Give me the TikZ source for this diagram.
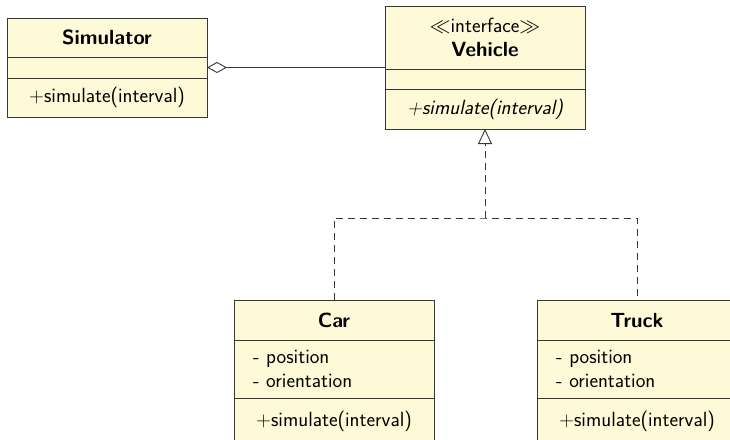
\documentclass[tikz,border=0pt]{standalone}
\usetikzlibrary{positioning,arrows.meta}

\definecolor{classfill}{RGB}{254,249,214}
\definecolor{classline}{RGB}{55,55,55}

\tikzset{
    cls/.style = {draw = classline, fill = classfill, line width = 0.9pt,
                  minimum width = 200pt, inner sep = 0pt, outer sep = 0pt,
                  font = \sffamily\fontsize{20.5}{24}\selectfont},
    attr/.style = {cls, text width = 162pt, align = left},
    link/.style = {draw = classline, line width = 0.9pt},
    realize/.style = {link, dash pattern = on 7pt off 5pt}
}

\begin{document}
\begin{tikzpicture}[x = 1pt, y = -1pt]

        \useasboundingbox (0, 0) rectangle (730, 439);
        \clip (0, 0) rectangle (730, 439);

        % Simulator
        \node (sim) at (107, 18) [cls, anchor = north, minimum height = 39pt] {\textbf{Simulator}};
        \node (sim-a) [cls, below = 0pt of sim, minimum height = 21pt] {};
        \node (sim-m) [cls, below = 0pt of sim-a, minimum height = 39pt] {+simulate(interval)};

        % Vehicle
        \node (veh) at (485, 6) [cls, anchor = north, minimum height = 63pt, align = center]
            {$\ll$interface$\gg$\\\textbf{Vehicle}};
        \node (veh-a) [cls, below = 0pt of veh, minimum height = 20pt] {};
        \node (veh-m) [cls, below = 0pt of veh-a, minimum height = 40pt] {\itshape +simulate(interval)};

        % Car
        \node (car) at (334, 300) [cls, anchor = north, minimum height = 40pt] {\textbf{Car}};
        \node (car-a) [attr, below = 0pt of car, minimum height = 58pt] {- position\\- orientation};
        \node (car-m) [cls, below = 0pt of car-a, minimum height = 46pt] {\raisebox{2.5pt}{+simulate(interval)}};

        % Truck
        \node (truck) at (637, 300) [cls, anchor = north, minimum height = 40pt] {\textbf{Truck}};
        \node (truck-a) [attr, below = 0pt of truck, minimum height = 58pt] {- position\\- orientation};
        \node (truck-m) [cls, below = 0pt of truck-a, minimum height = 46pt] {\raisebox{2.5pt}{+simulate(interval)}};

        % aggregation
        \draw [link, {Diamond[open, length = 20pt, width = 11pt]}-] (sim-a.east) -- (sim-a.east -| veh.west);

        % realization
        \coordinate (fork) at (485, 218);
        \draw [realize] (car.north) |- (fork) -| (truck.north);
        \draw [realize, -{Triangle[open, length = 15pt, width = 14pt, line width = 0.9pt]}] (fork) -- (veh-m.south);

    \end{tikzpicture}
\end{document}
